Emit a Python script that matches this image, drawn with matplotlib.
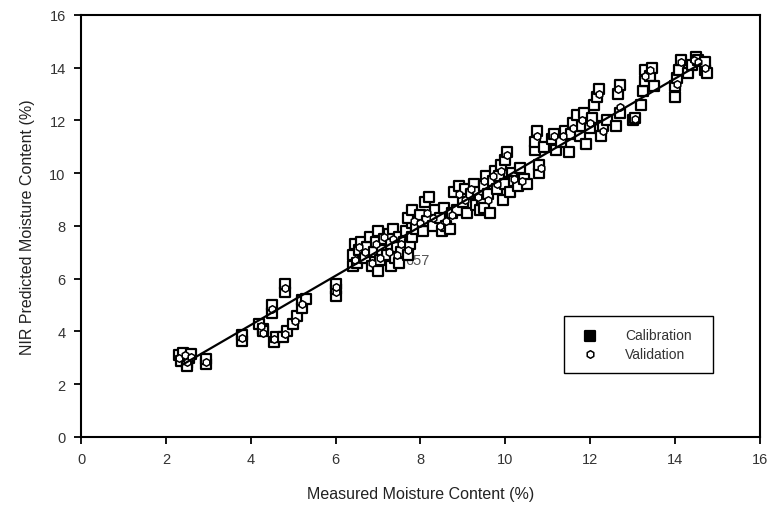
import matplotlib
matplotlib.use("Agg")
import matplotlib.pyplot as plt

plt.rcParams['font.family'] = ['Liberation Sans', 'DejaVu Sans']

# calibration set (measured, predicted)
cal_x = [2.3, 2.35, 2.4, 2.5, 2.55, 2.6, 2.5, 2.95, 2.95,
         3.8, 3.8, 4.2, 4.3, 4.3, 4.5, 4.5, 4.55, 4.6,
         4.8, 4.8, 4.75, 4.85, 5.0, 5.1, 5.2, 5.2, 5.3,
         6.0, 6.0, 6.0,
         6.4, 6.4, 6.45, 6.5, 6.55, 6.6, 6.7, 6.75, 6.8, 6.85, 6.9, 6.95,
         7.0, 7.0, 7.05, 7.1, 7.15, 7.2, 7.25, 7.3, 7.3, 7.35, 7.4, 7.45,
         7.5, 7.5, 7.55, 7.6, 7.65, 7.7, 7.75, 7.8, 7.8,
         7.7, 7.8, 7.9, 8.0, 8.05, 8.1, 8.15, 8.2, 8.3, 8.35, 8.45, 8.5,
         8.55, 8.6, 8.7, 8.75,
         8.8, 8.85, 8.9, 9.0, 9.05, 9.1, 9.2, 9.25, 9.3, 9.35, 9.4, 9.45,
         9.5, 9.5, 9.55, 9.6, 9.65, 9.7, 9.75, 9.8, 9.85, 9.9, 9.95, 10.0,
         10.0, 10.05, 10.1, 10.15, 10.2, 10.3, 10.35, 10.45, 10.5,
         10.7, 10.7, 10.75, 10.8, 10.8, 10.9, 11.1, 11.15, 11.2, 11.3, 11.4, 11.5,
         11.55, 11.6, 11.7, 11.75, 11.8, 11.85, 11.9, 12.0, 12.05, 12.1, 12.15,
         12.2, 12.25, 12.3, 12.4, 12.6, 12.65, 12.7, 12.7,
         13.0, 13.05, 13.2, 13.25, 13.3, 13.3, 13.4, 13.45, 13.5,
         14.0, 14.0, 14.05, 14.1, 14.15, 14.3, 14.4, 14.5, 14.55, 14.7, 14.7, 14.75]
cal_y = [3.1, 2.9, 3.2, 2.8, 3.0, 3.15, 2.7, 2.75, 2.95,
         3.65, 3.85, 4.3, 4.1, 4.0, 4.7, 5.0, 3.6, 3.8,
         5.5, 5.8, 3.8, 4.0, 4.3, 4.6, 4.9, 5.2, 5.25,
         5.35, 5.6, 5.8,
         6.5, 6.9, 7.3, 6.6, 7.1, 7.4, 6.8, 7.2, 7.6, 6.5, 7.0, 7.4,
         7.8, 6.3, 6.7, 7.1, 7.5, 6.9, 7.7, 6.5, 7.3, 7.9, 6.8, 7.2,
         7.6, 6.6, 7.0, 7.4, 7.8, 6.9, 7.3, 8.1, 7.6,
         8.3, 8.6, 7.9, 8.4, 7.8, 8.9, 8.2, 9.1, 8.0, 8.6, 8.3, 7.8,
         8.7, 8.0, 7.9, 8.5,
         9.3, 8.6, 9.5, 8.9, 9.4, 8.5, 9.2, 9.6, 8.8, 9.3, 8.6, 9.0,
         9.5, 8.7, 9.9, 9.2, 8.5, 9.7, 10.1, 9.4, 9.9, 10.3, 9.0, 9.6,
         10.5, 10.8, 9.3, 10.0, 9.7, 9.5, 10.2, 9.8, 9.6,
         10.9, 11.2, 11.6, 10.0, 10.3, 11.0, 11.3, 11.5, 10.9, 11.2, 11.6, 10.8,
         11.5, 11.9, 12.2, 11.4, 11.8, 12.3, 11.1, 11.7, 12.1, 12.6, 12.9,
         13.2, 11.4, 11.8, 12.0, 11.8, 13.0, 13.35, 12.3,
         12.0, 12.1, 12.6, 13.1, 13.5, 13.9, 13.7, 14.0, 13.3,
         12.9, 13.3, 13.6, 13.9, 14.3, 13.8, 14.1, 14.4, 14.3, 13.9, 14.2, 13.8]

# validation set
val_x = [2.3, 2.45, 2.5, 2.6, 2.95, 3.8, 4.25, 4.3, 4.5, 4.55, 4.8, 4.8,
         5.05, 5.2, 6.0, 6.0,
         6.45, 6.55, 6.7, 6.85, 6.95, 7.05, 7.15, 7.25, 7.35, 7.45, 7.55, 7.7,
         7.85, 8.0, 8.15, 8.3, 8.45, 8.6, 8.75,
         8.9, 9.05, 9.2, 9.35, 9.5, 9.6, 9.7, 9.8, 9.9, 10.05, 10.2, 10.4,
         10.75, 10.85, 11.15, 11.35, 11.6, 11.8, 12.0, 12.2, 12.3, 12.65, 12.7,
         13.05, 13.3, 13.4, 14.05, 14.15, 14.45, 14.55, 14.7]
val_y = [3.0, 3.1, 2.85, 3.05, 2.85, 3.75, 4.2, 3.95, 4.85, 3.7, 5.65, 3.9,
         4.4, 5.05, 5.5, 5.7,
         6.7, 7.2, 7.0, 6.6, 7.3, 6.8, 7.6, 7.0, 7.5, 6.9, 7.3, 7.1,
         8.2, 8.1, 8.5, 8.3, 8.0, 8.2, 8.4,
         9.2, 9.0, 9.4, 9.1, 9.7, 9.0, 9.9, 9.6, 10.1, 10.7, 9.8, 9.7,
         11.4, 10.2, 11.4, 11.4, 11.7, 12.0, 11.9, 13.0, 11.6, 13.2, 12.5,
         12.05, 13.7, 13.9, 13.4, 14.2, 14.3, 14.2, 14.0]

# regression line end points
line_x = [2.4, 14.6]
line_y = [2.75, 14.15]

fig = plt.figure(figsize=(7.68, 5.06), dpi=100)
ax = fig.add_axes([0.1055, 0.1344, 0.884, 0.834])

ax.scatter(cal_x, cal_y, marker='s', s=56, c='white', edgecolors='black',
           linewidths=1.6, label='Calibration', zorder=2)
ax.scatter(val_x, val_y, marker='h', s=30, c='white', edgecolors='black',
           linewidths=1.1, label='Validation', zorder=3)
ax.plot(line_x, line_y, color='black', linewidth=1.6, zorder=4)
ax.text(7.65, 6.55, '657', fontsize=10.5, color='#555555', zorder=1)

ax.set_xlim(0, 16)
ax.set_ylim(0, 16)
ax.set_xticks(range(0, 17, 2))
ax.set_yticks(range(0, 17, 2))
ax.tick_params(direction='out', length=5, width=1.3, labelsize=10.5,
               labelcolor='#333333', pad=6)
for sp in ax.spines.values():
    sp.set_linewidth(1.5)

ax.set_xlabel('Measured Moisture Content (%)', fontsize=11.5, color='#222222', labelpad=14)
ax.set_ylabel('NIR Predicted Moisture Content (%)', fontsize=11.5, color='#222222', labelpad=10)

leg = ax.legend(loc='lower left', bbox_to_anchor=(0.701, 0.135, 0.24, 0.149),
                mode='expand', fancybox=False, framealpha=1, edgecolor='black',
                fontsize=10, labelcolor='#333333', handletextpad=1.5,
                borderpad=0.9, labelspacing=0.3)
leg.get_frame().set_linewidth(1.0)
# calibration symbol is solid in the legend
leg.legend_handles[0].set_facecolor('black')

fig.savefig('out.png', dpi=100)
